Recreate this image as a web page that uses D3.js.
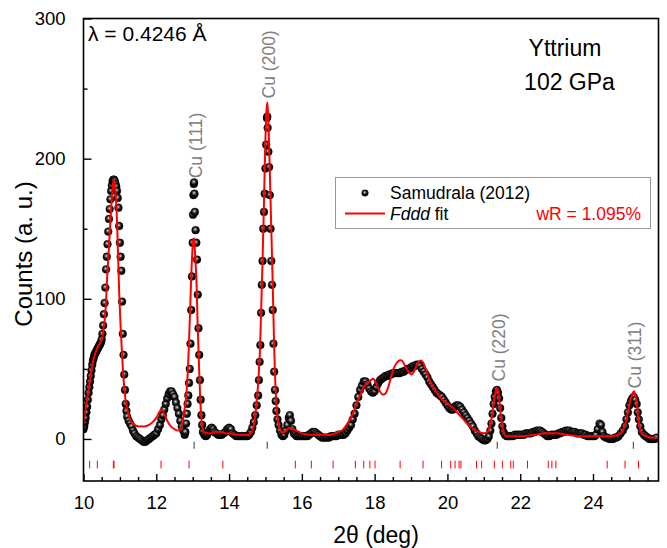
<!DOCTYPE html>
<html><head><meta charset="utf-8">
<script src="https://cdn.jsdelivr.net/npm/d3@7"></script>
<style>body{margin:0;background:#fff}svg{display:block;font-family:"Liberation Sans",Arial,Helvetica,sans-serif}</style>
</head><body><svg id="c" width="667" height="548"></svg>
<script>
// ---- data (2θ in deg, counts in a.u.) ----
const observed = [
[10.00,7],[10.02,9],[10.04,12],[10.06,15],[10.08,19],[10.10,23],[10.12,28],[10.14,33],[10.16,37],[10.18,41],
[10.20,45],[10.22,49],[10.24,53],[10.26,56],[10.28,58],[10.30,60],[10.32,61],[10.34,62],[10.36,63],[10.38,64],
[10.40,65],[10.42,66],[10.44,67],[10.46,68],[10.48,69],[10.50,71],[10.52,75],[10.54,81],[10.56,89],[10.58,97],
[10.60,108],[10.62,121],[10.64,130],[10.66,139],[10.68,148],[10.70,157],[10.72,164],[10.74,171],[10.76,177],[10.78,181],
[10.80,184],[10.82,185],[10.84,185],[10.86,184],[10.88,182],[10.90,180],[10.92,177],[10.94,172],[10.96,165],[10.98,152],
[11.00,140],[11.02,130],[11.04,120],[11.06,98],[11.08,75],[11.10,60],[11.12,46],[11.14,35],[11.16,25],[11.18,20],
[11.20,16],[11.24,13],[11.28,11],[11.32,9],[11.36,6],[11.40,4],[11.45,2],[11.50,1],[11.55,0],[11.60,-1],
[11.65,-2],[11.70,-2],[11.75,-1],[11.80,0],[11.85,1],[11.90,2],[11.95,3],[12.00,4],[12.05,7],[12.10,10],
[12.14,14],[12.18,17],[12.22,21],[12.26,25],[12.30,29],[12.34,32],[12.38,34],[12.42,34],[12.46,32],[12.50,30],
[12.54,26],[12.58,22],[12.62,18],[12.66,13],[12.70,9],[12.74,6],[12.78,3],[12.80,5],[12.82,11],[12.84,18],
[12.86,25],[12.88,31],[12.90,40],[12.92,50],[12.94,68],[12.96,92],[12.98,116],[13.00,140],[13.01,160],[13.02,174],
[13.03,182],[13.04,183],[13.05,175],[13.06,162],[13.08,149],[13.10,140],[13.12,128],[13.14,103],[13.16,79],[13.18,60],
[13.20,42],[13.22,28],[13.24,17],[13.26,10],[13.28,5],[13.32,3],[13.36,2],[13.40,3],[13.44,5],[13.48,7],
[13.52,8],[13.56,7],[13.60,5],[13.65,4],[13.70,3],[13.75,3],[13.80,3],[13.85,4],[13.90,5],[13.95,7],
[14.00,8],[14.05,7],[14.10,4],[14.15,3],[14.20,2],[14.25,2],[14.30,2],[14.35,2],[14.40,2],[14.45,2],[14.50,2],[14.55,3],
[14.60,5],[14.64,8],[14.68,12],[14.72,17],[14.76,24],[14.80,31],[14.82,42],[14.84,55],[14.86,67],[14.88,90],
[14.90,110],[14.92,127],[14.94,150],[14.96,162],[14.98,175],[15.00,193],[15.02,210],[15.04,229],[15.05,230],[15.06,222],
[15.08,205],[15.10,194],[15.12,174],[15.14,150],[15.16,127],[15.18,110],[15.20,92],[15.22,68],[15.24,48],[15.26,35],
[15.28,27],[15.30,20],[15.33,14],[15.36,10],[15.40,6],[15.44,3],[15.48,2],[15.52,3],[15.56,6],[15.60,10],
[15.64,15],[15.67,17],[15.70,13],[15.74,7],[15.78,4],[15.82,3],[15.86,2],[15.90,2],[15.95,2],[16.00,2],[16.05,2],[16.10,2],
[16.15,2],[16.20,3],[16.25,4],[16.30,5],[16.35,5],[16.40,4],[16.45,3],[16.50,2],[16.55,1],[16.60,1],[16.65,1],[16.70,1],
[16.75,1],[16.80,2],[16.85,2],[16.90,2],[16.95,2],[17.00,3],[17.05,3],[17.10,3],[17.15,3],[17.20,4],[17.25,6],
[17.30,8],[17.35,10],[17.40,14],[17.45,18],[17.50,24],[17.55,30],[17.60,35],[17.65,38],[17.70,41],[17.75,41],
[17.80,39],[17.85,36],[17.90,34],[17.95,33],[18.00,34],[18.05,37],[18.10,40],[18.15,42],[18.20,43],[18.25,44],
[18.30,45],[18.35,45],[18.40,46],[18.45,46],[18.50,47],[18.55,47],[18.60,47],[18.65,47],[18.70,47],[18.75,48],
[18.80,48],[18.85,49],[18.90,50],[18.95,50],[19.00,51],[19.05,52],[19.10,52],[19.15,53],[19.20,53],[19.25,52],
[19.30,50],[19.35,48],[19.40,46],[19.45,44],[19.50,41],[19.55,39],[19.60,37],[19.65,35],[19.70,33],[19.75,32],
[19.80,31],[19.85,30],[19.90,28],[19.95,26],[20.00,24],[20.05,22],[20.10,21],[20.15,21],[20.20,23],[20.25,24],
[20.30,24],[20.35,23],[20.40,21],[20.45,19],[20.50,17],[20.55,15],[20.60,13],[20.65,11],[20.70,9],[20.75,6],
[20.80,4],[20.85,2],[20.90,1],[20.95,0],[21.00,-1],[21.05,-1],[21.10,0],[21.14,2],[21.18,6],[21.21,11],
[21.24,18],[21.27,25],[21.30,30],[21.33,34],[21.36,35],[21.39,33],[21.42,29],[21.45,22],[21.48,15],[21.51,9],
[21.54,5],[21.58,3],[21.63,2],[21.67,2],[21.70,2],[21.75,2],[21.80,2],[21.85,3],[21.90,3],[21.95,3],[22.00,3],[22.05,3],
[22.10,3],[22.15,4],[22.20,4],[22.25,4],[22.30,4],[22.35,5],[22.40,5],[22.45,6],[22.50,6],[22.55,6],[22.60,5],
[22.65,4],[22.70,3],[22.75,2],[22.80,2],[22.85,3],[22.90,3],[22.95,3],[23.00,3],[23.05,4],[23.10,4],[23.15,5],
[23.20,5],[23.25,6],[23.30,6],[23.35,6],[23.40,5],[23.45,5],[23.50,5],[23.55,4],[23.60,4],[23.65,4],[23.70,4],
[23.75,3],[23.80,3],[23.85,2],[23.90,2],[23.95,2],[24.00,2],[24.04,2],[24.08,3],[24.13,7],[24.18,11],[24.22,10],
[24.26,5],[24.30,2],[24.35,1],[24.40,1],[24.45,0],[24.50,0],[24.55,0],[24.60,1],[24.65,1],[24.70,2],[24.76,4],
[24.82,6],[24.88,9],[24.92,14],[24.96,19],[25.00,24],[25.04,27],[25.08,29],[25.12,30],[25.16,28],[25.20,25],
[25.23,19],[25.26,14],[25.30,9],[25.34,5],[25.40,3],[25.45,2],[25.50,1],[25.55,0],[25.60,0],[25.65,0],
[25.70,0],[25.75,1]
];
const fdddFit = [
[10.00,11],[10.05,20],[10.10,28],[10.15,37],[10.20,46],[10.25,54],[10.30,59],[10.35,63],[10.40,66],[10.45,68],
[10.50,71],[10.55,78],[10.60,90],[10.65,115],[10.70,137],[10.75,160],[10.80,178],[10.83,185],[10.86,181],[10.90,168],
[10.94,140],[10.98,105],[11.02,80],[11.06,60],[11.10,43],[11.15,29],[11.20,21],[11.30,13],[11.40,10],[11.50,9],
[11.60,9],[11.70,9],[11.80,10],[11.90,12],[12.00,15],[12.08,19],[12.14,21],[12.20,19],[12.30,13],[12.40,9],
[12.50,7],[12.60,6],[12.66,7],[12.72,12],[12.78,22],[12.82,30],[12.86,45],[12.90,70],[12.94,100],[12.98,128],
[13.02,142],[13.04,143],[13.06,135],[13.10,115],[13.14,79],[13.18,48],[13.22,22],[13.26,9],[13.30,5],[13.40,4],
[13.50,4],[13.60,5],[13.70,5],[13.80,5],[13.90,4],[14.00,4],[14.20,3],[14.40,3],[14.55,3],[14.62,5],
[14.68,10],[14.74,22],[14.80,40],[14.84,58],[14.88,90],[14.92,127],[14.96,170],[15.00,215],[15.03,235],[15.05,240],
[15.07,233],[15.10,210],[15.13,180],[15.16,150],[15.20,110],[15.24,65],[15.28,35],[15.32,18],[15.38,8],[15.44,5],
[15.52,5],[15.60,7],[15.67,8],[15.75,7],[15.85,6],[16.00,4],[16.20,3],[16.40,3],[16.60,3],[16.80,3],
[17.00,5],[17.10,6],[17.20,9],[17.30,13],[17.40,18],[17.50,25],[17.60,31],[17.70,37],[17.80,40],[17.90,42],
[17.96,43],[18.02,41],[18.10,36],[18.20,32],[18.28,32],[18.36,36],[18.44,43],[18.52,50],[18.60,54],[18.68,56],
[18.74,56],[18.80,54],[18.88,50],[18.96,47],[19.02,46],[19.10,49],[19.18,54],[19.26,56],[19.32,55],[19.40,50],
[19.48,44],[19.56,39],[19.66,35],[19.76,31],[19.86,28],[19.96,26],[20.06,24],[20.16,22],[20.30,18],[20.44,14],
[20.58,10],[20.72,7],[20.86,5],[21.00,4],[21.10,5],[21.16,8],[21.22,16],[21.28,27],[21.33,34],[21.37,36],
[21.41,31],[21.45,21],[21.49,12],[21.54,5],[21.60,2],[21.70,2],[21.90,2],[22.10,2],[22.40,3],[22.70,4],
[23.00,4],[23.30,3],[23.60,2],[23.90,2],[24.20,2],[24.50,2],[24.70,3],[24.80,5],[24.88,10],[24.96,19],
[25.02,27],[25.08,32],[25.13,34],[25.18,29],[25.23,18],[25.28,9],[25.34,4],[25.45,2],[25.60,1],[25.80,1]
];
const fdddReflections = [10.17,10.38,10.82,10.84,12.13,12.90,13.83,15.82,16.26,16.86,17.47,17.70,17.87,18.01,
  18.70,19.33,19.84,20.09,20.21,20.32,20.37,20.80,20.94,21.29,21.51,21.74,21.81,22.20,22.77,22.87,22.98,24.39,24.88,25.25];
const cuReflections = [13.04, 15.05, 21.37, 25.11];
const cuLabels = ["Cu (111)", "Cu (200)", "Cu (220)", "Cu (311)"];
const cuLabelStart = [186, 243, 41, 36];   // counts level where each label begins
const xMajorTicks = [10, 12, 14, 16, 18, 20, 22, 24];
const xMinorTicks = d3.range(10.5, 25.8, 0.5).filter(v => Math.abs(v % 2) > 1e-6);
const yMajorTicks = [0, 100, 200, 300];
const yMinorTicks = [50, 150, 250];

// ---- layout ----
const svg = d3.select("#c");
const L = 83.5, R = 658.5, T = 18.5, B = 481;
const x = d3.scaleLinear().domain([10, 25.8]).range([L, R]);
const y = d3.scaleLinear().domain([-30, 300]).range([B, T]);

const defs = svg.append("defs");
const g = defs.append("radialGradient").attr("id", "ball").attr("cx", "45%").attr("cy", "40%").attr("r", "60%");
g.append("stop").attr("offset", "0%").attr("stop-color", "#f4f4f4");
g.append("stop").attr("offset", "22%").attr("stop-color", "#777");
g.append("stop").attr("offset", "55%").attr("stop-color", "#111");
g.append("stop").attr("offset", "100%").attr("stop-color", "#000");
defs.append("clipPath").attr("id", "clip").append("rect").attr("x", L).attr("y", T).attr("width", R - L).attr("height", B - T);

// observed points
svg.append("g").attr("clip-path", "url(#clip)").selectAll("circle").data(observed).join("circle")
  .attr("cx", d => x(d[0])).attr("cy", d => y(d[1])).attr("r", 3.9)
  .attr("fill", "url(#ball)").attr("stroke", "#000").attr("stroke-width", 0.4);

// fit line
svg.append("path").datum(fdddFit).attr("clip-path", "url(#clip)")
  .attr("fill", "none").attr("stroke", "#ff0000").attr("stroke-width", 2)
  .attr("d", d3.line().x(d => x(d[0])).y(d => y(d[1])).curve(d3.curveCatmullRom.alpha(0.5)));

// reflection ticks
svg.append("g").selectAll("line").data(fdddReflections).join("line")
  .attr("x1", d => x(d)).attr("x2", d => x(d)).attr("y1", y(-15.5)).attr("y2", y(-21))
  .attr("stroke", "#ff0000").attr("stroke-width", 1);
svg.append("g").selectAll("line").data(cuReflections).join("line")
  .attr("x1", d => x(d)).attr("x2", d => x(d)).attr("y1", y(-2)).attr("y2", y(-7))
  .attr("stroke", "#555").attr("stroke-width", 1.2);

// Cu labels
svg.append("g").selectAll("text").data(cuReflections).join("text")
  .attr("transform", (d, i) => `translate(${x(d) + 7.5},${y(cuLabelStart[i])}) rotate(-90)`)
  .attr("fill", "#808080").attr("font-size", 17.5).text((d, i) => cuLabels[i]);

// frame
svg.append("rect").attr("x", L).attr("y", T).attr("width", R - L).attr("height", B - T)
  .attr("fill", "none").attr("stroke", "#000").attr("stroke-width", 1.6);

// x axis
const xa = svg.append("g").attr("transform", `translate(0,${B})`);
xa.call(d3.axisBottom(x).tickValues(xMajorTicks).tickSizeInner(-7).tickSizeOuter(0).tickPadding(15).tickFormat(d3.format("d")));
xa.append("g").call(d3.axisBottom(x).tickValues(xMinorTicks).tickSizeInner(-4).tickSizeOuter(0).tickFormat(""));
xa.selectAll(".domain").remove();
xa.selectAll("line").attr("stroke", "#000").attr("stroke-width", 1.4);
xa.selectAll("text").attr("font-size", 18.5).attr("fill", "#000").attr("font-family", null);

// y axis
const ya = svg.append("g").attr("transform", `translate(${L},0)`);
ya.call(d3.axisLeft(y).tickValues(yMajorTicks).tickSizeInner(-8).tickSizeOuter(0).tickPadding(18).tickFormat(d3.format("d")));
ya.append("g").call(d3.axisLeft(y).tickValues(yMinorTicks).tickSizeInner(-4).tickSizeOuter(0).tickFormat(""));
ya.selectAll(".domain").remove();
ya.selectAll("line").attr("stroke", "#000").attr("stroke-width", 1.4);
ya.selectAll("text").attr("font-size", 18.5).attr("fill", "#000").attr("font-family", null);

// axis titles
svg.append("text").attr("x", 376).attr("y", 543).attr("text-anchor", "middle").attr("font-size", 23).text("2θ (deg)");
svg.append("text").attr("transform", "translate(32,254) rotate(-90)").attr("text-anchor", "middle").attr("font-size", 24).text("Counts (a. u.)");

// annotations
svg.append("text").attr("x", 88).attr("y", 41).attr("font-size", 21).text("λ = 0.4246 Å");
svg.append("text").attr("x", 565).attr("y", 56).attr("text-anchor", "middle").attr("font-size", 23).text("Yttrium");
svg.append("text").attr("x", 569.5).attr("y", 89.5).attr("text-anchor", "middle").attr("font-size", 23).text("102 GPa");

// legend
const lg = svg.append("g");
lg.append("rect").attr("x", 335.5).attr("y", 177.5).attr("width", 315).attr("height", 51)
  .attr("fill", "#fff").attr("stroke", "#999").attr("stroke-width", 1);
lg.append("circle").attr("cx", 365).attr("cy", 193).attr("r", 3.3).attr("fill", "url(#ball)").attr("stroke", "#000").attr("stroke-width", 0.4);
lg.append("text").attr("x", 390).attr("y", 199).attr("font-size", 17.5).text("Samudrala (2012)");
lg.append("line").attr("x1", 345).attr("x2", 385).attr("y1", 213.5).attr("y2", 213.5).attr("stroke", "#ff0000").attr("stroke-width", 2);
const ft = lg.append("text").attr("x", 390).attr("y", 220).attr("font-size", 17.5);
ft.append("tspan").attr("font-style", "italic").text("Fddd");
ft.append("tspan").text(" fit");
lg.append("text").attr("x", 641).attr("y", 220).attr("text-anchor", "end").attr("font-size", 17.5).attr("fill", "#ff0000").text("wR = 1.095%");
</script></body></html>
